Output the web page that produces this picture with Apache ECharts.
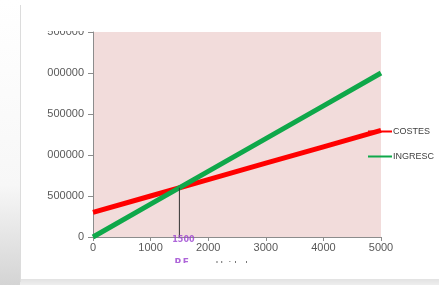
<!DOCTYPE html>
<html>
<head>
<meta charset="utf-8">
<script src="https://cdn.jsdelivr.net/npm/echarts@6/dist/echarts.min.js"></script>
<style>
  html, body { margin: 0; padding: 0; background: #fff; }
  #chart { width: 439px; height: 285px; }
</style>
</head>
<body>
<div id="chart"></div>
<script>
// unidades (eje x)
const unidades = [0, 1000, 2000, 3000, 4000, 5000];
// valores
const costes = [300000, 500000, 700000, 900000, 1100000, 1300000];
const ingresos = [0, 400000, 800000, 1200000, 1600000, 2000000];
// punto de equilibrio
const peUnidades = 1500;
const peValor = 600000;
const seriesNames = ['COSTES', 'INGRESC'];

const chart = echarts.init(document.getElementById('chart'));

const font = '"Liberation Sans Narrow", "Liberation Sans", sans-serif';

const option = {
  animation: false,
  textStyle: { fontFamily: font },
  grid: {
    left: 93,
    right: 58,
    top: 32,
    bottom: 48,
    show: true,
    backgroundColor: '#f2dcdb',
    borderWidth: 0
  },
  legend: {
    orient: 'vertical',
    left: 368,
    top: 127,
    padding: 0,
    itemWidth: 24,
    itemHeight: 2,
    itemGap: 16,
    icon: 'rect',
    data: seriesNames,
    textStyle: { color: '#404040', fontSize: 9, fontFamily: font, padding: [0, 0, 0, -4] }
  },
  xAxis: {
    type: 'value',
    min: 0,
    max: 5000,
    interval: 1000,
    name: 'Unidades',
    nameLocation: 'middle',
    nameGap: 24,
    nameTextStyle: { color: '#666', fontSize: 10 },
    axisLine: { lineStyle: { color: '#8c8c8c' } },
    axisTick: { show: true, length: 4, lineStyle: { color: '#8c8c8c' } },
    axisLabel: { color: '#595959', fontSize: 11, margin: 5, formatter: v => String(v) },
    splitLine: { show: false }
  },
  yAxis: {
    type: 'value',
    min: 0,
    max: 2500000,
    interval: 500000,
    axisLine: { show: true, lineStyle: { color: '#8c8c8c' } },
    axisTick: { show: true, length: 5, lineStyle: { color: '#8c8c8c' } },
    axisLabel: {
      color: '#595959',
      fontSize: 11,
      margin: 9,
      // las etiquetas aparecen recortadas por la izquierda en la imagen
      formatter: v => v === 0 ? '0' : String(v).slice(-6)
    },
    splitLine: { show: false }
  },
  series: [
    {
      name: seriesNames[0],
      type: 'line',
      symbol: 'none',
      z: 3,
      data: unidades.map((u, i) => [u, costes[i]]),
      itemStyle: { color: '#ff0000' },
      lineStyle: { color: '#ff0000', width: 5 }
    },
    {
      name: seriesNames[1],
      type: 'line',
      symbol: 'none',
      z: 4,
      data: unidades.map((u, i) => [u, ingresos[i]]),
      itemStyle: { color: '#0fa84a' },
      lineStyle: { color: '#0fa84a', width: 5 }
    },
    {
      name: 'PE',
      type: 'line',
      symbol: 'none',
      z: 5,
      lineStyle: { color: '#333', width: 1 },
      data: [[peUnidades, 0], [peUnidades, peValor]]
    },
    {
      name: 'PE etiqueta',
      type: 'scatter',
      symbolSize: 0,
      z: 6,
      silent: true,
      data: [[peUnidades, 0]],
      label: {
        show: true,
        position: 'bottom',
        distance: 0,
        offset: [4, -2],
        formatter: '{a|' + peUnidades + '}\n{b|P.E.}',
        rich: {
          a: { color: '#9a3fd0', fontSize: 8, fontWeight: 'bold', lineHeight: 10, fontFamily: 'DejaVu Sans' },
          b: { color: '#9a3fd0', fontSize: 9, fontWeight: 'bold', lineHeight: 36, fontFamily: 'DejaVu Sans' }
        }
      }
    }
  ],
  graphic: [
    // recortes y sombra de la diapositiva
    { type: 'rect', z: 100, shape: { x: 20, y: 263, width: 419, height: 17 }, style: { fill: '#fff' } },
    { type: 'rect', z: 100, shape: { x: 20, y: 0, width: 70, height: 31 }, style: { fill: '#fff' } },
    {
      type: 'rect', z: 101, shape: { x: 20, y: 279, width: 419, height: 6 },
      style: { fill: new echarts.graphic.LinearGradient(0, 0, 0, 1, [
        { offset: 0, color: '#e2e2e2' }, { offset: 1, color: '#eeeeee' }
      ]) }
    },
    {
      type: 'rect', z: 101, shape: { x: 0, y: 0, width: 20, height: 285 },
      style: { fill: new echarts.graphic.LinearGradient(0, 0, 0, 1, [
        { offset: 0, color: '#ffffff' }, { offset: 0.65, color: '#f7f7f7' }, { offset: 1, color: '#d4d4d4' }
      ]) }
    },
    { type: 'line', z: 102, shape: { x1: 20.5, y1: 5, x2: 20.5, y2: 282 }, style: { stroke: '#dcdcdc', lineWidth: 1 } }
  ]
};

chart.setOption(option);
</script>
</body>
</html>
